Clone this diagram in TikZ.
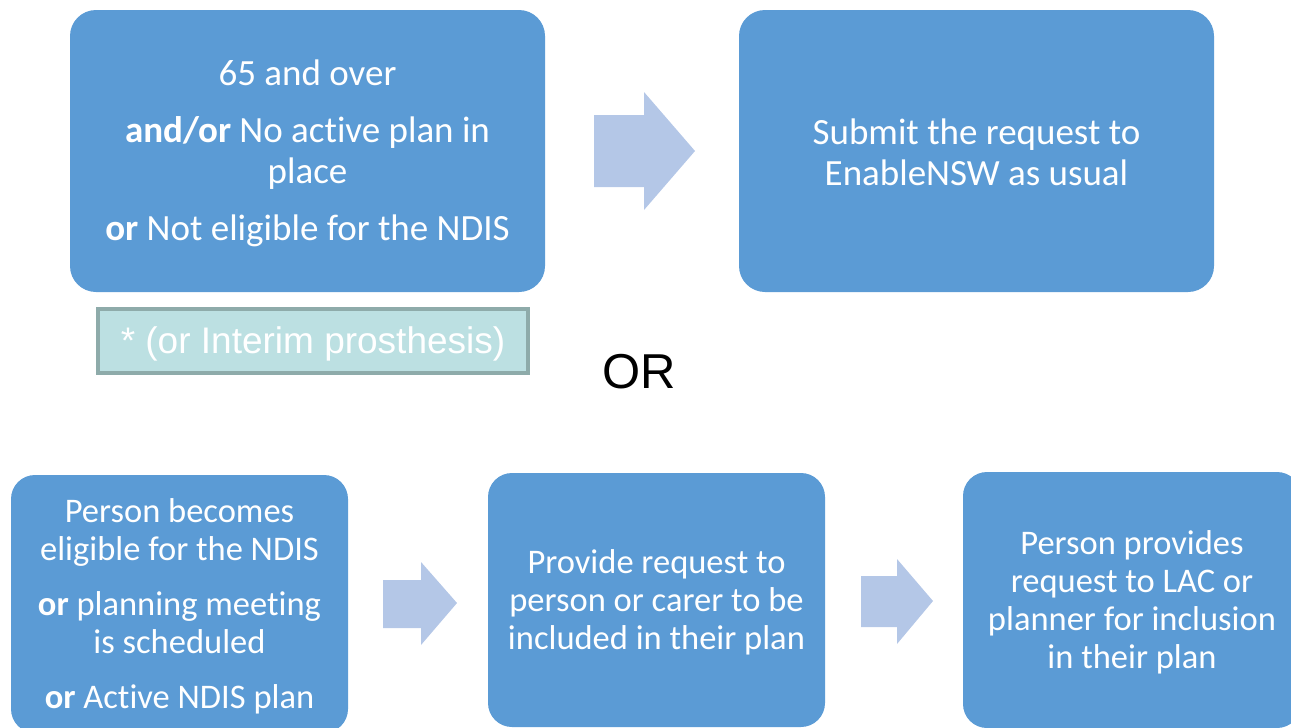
\documentclass[tikz,border=0pt]{standalone}
\usepackage{fontspec}
\setmainfont{Carlito}[Ligatures=NoCommon]
\newfontfamily\arialfont{Liberation Sans}
\definecolor{boxblue}{HTML}{5B9BD5}
\definecolor{arrowblue}{HTML}{B4C7E7}
\definecolor{notefill}{HTML}{BCE0E2}
\definecolor{noteline}{HTML}{8EABAA}
\begin{document}
\begin{tikzpicture}[x=1pt,y=-1pt,
  bluebox/.style={fill=boxblue, draw=none, rounded corners=26pt, inner sep=0pt},
  boxtext/.style={text=white, align=center, inner sep=0pt},
  topfont/.style={font=\fontsize{37}{41}\selectfont},
  botfont/.style={font=\fontsize{34.5}{38}\selectfont},
  blockarrow/.style={fill=arrowblue, draw=none}]
\useasboundingbox (0,0) rectangle (1291,728);
% top row
\node[bluebox, minimum width=475pt, minimum height=282pt] (a) at (307.5,151) {};
\node[boxtext, topfont] (atext) at ([yshift=-2pt]a.center)
  {65 and over\\[16pt]\textbf{and/or} No active plan in\\place\\[16pt]\textbf{or} Not eligible for the NDIS};
\node[bluebox, minimum width=475pt, minimum height=282pt] (b) at (976.5,151) {};
\node[boxtext, topfont] (btext) at ([yshift=-1pt]b.center) {Submit the request to\\EnableNSW as usual};
\node[fill=notefill, draw=noteline, line width=4pt, minimum width=430pt, minimum height=64pt, inner sep=0pt] (note) at (313,340.5) {};
\node[text=white, font=\arialfont\fontsize{37}{40}\selectfont, inner sep=0pt] (notetext) at ([yshift=-3pt]note.center) {* (or Interim prosthesis)};
\node[font=\arialfont\fontsize{49}{55}\selectfont, text=black, inner sep=0pt] (or) at (639,372) {OR};
% top arrow
\draw[blockarrow] (594,115) -- (644,115) -- (644,92) -- (695,151) -- (644,210) -- (644,187) -- (594,187) -- cycle;
% bottom row
\node[bluebox, minimum width=337pt, minimum height=258pt, rounded corners=24pt] (c) at (179.5,604) {};
\node[boxtext, botfont] (ctext) at ([yshift=-2pt]c.center)
  {Person becomes\\eligible for the NDIS\\[17pt]\textbf{or} planning meeting\\is scheduled\\[17pt]\textbf{or} Active NDIS plan};
\node[bluebox, minimum width=337pt, minimum height=254pt, rounded corners=24pt] (d) at (656.5,600) {};
\node[boxtext, botfont] (dtext) at ([yshift=-2pt]d.center)
  {Provide request to\\person or carer to be\\included in their plan};
\node[bluebox, minimum width=338pt, minimum height=256pt, rounded corners=24pt] (e) at (1132,600) {};
\node[boxtext, botfont] (etext) at ([yshift=-2.5pt]e.center)
  {Person provides\\request to LAC or\\planner for inclusion\\in their plan};
\draw[blockarrow] (383,580) -- (421,580) -- (421,562) -- (457,603) -- (421,645) -- (421,628) -- (383,628) -- cycle;
\draw[blockarrow] (861,576) -- (897,576) -- (897,559) -- (933,601) -- (897,644) -- (897,627) -- (861,627) -- cycle;
\end{tikzpicture}
\end{document}
